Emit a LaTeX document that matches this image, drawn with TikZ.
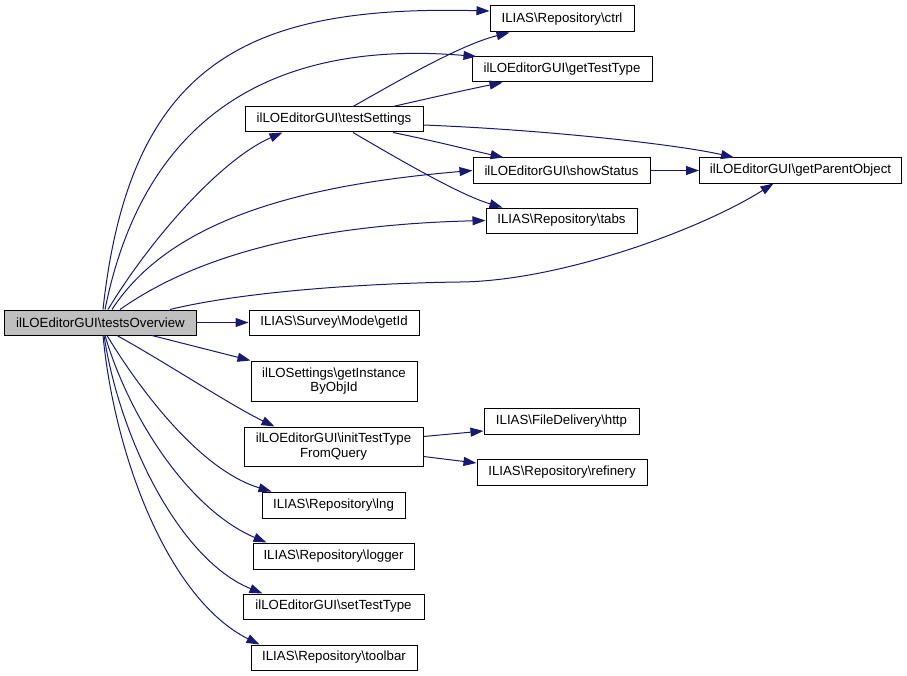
\documentclass[tikz,border=0pt]{standalone}
\usepackage{fontspec}
\setmainfont{Liberation Sans}
\usetikzlibrary{arrows.meta}
\definecolor{navy}{HTML}{191970}
\begin{document}
\begin{tikzpicture}[x=1bp,y=-1bp,
  fn/.style={rectangle, draw=black, fill=white, line width=1bp, inner sep=0pt, minimum height=25bp, align=center, font=\fontsize{13.3}{14.7}\selectfont},
  call/.style={draw=navy, line width=1bp, -{Triangle[length=13bp,width=9bp]}}]
\useasboundingbox (0,0) rectangle (907,676);

\node[fn, fill=black!25, minimum width=191bp](over) at (100.5,322.5) {ilLOEditorGUI\textbackslash{}testsOverview};

\node[fn, minimum width=144bp, minimum height=26bp](ctrl) at (562,19) {ILIAS\textbackslash{}Repository\textbackslash{}ctrl};
\node[fn, minimum width=180bp](gtt) at (562,69.5) {ilLOEditorGUI\textbackslash{}getTestType};
\node[fn, minimum width=178bp](tset) at (334,119.5) {ilLOEditorGUI\textbackslash{}testSettings};
\node[fn, minimum width=177bp](stat) at (561.5,170.5) {ilLOEditorGUI\textbackslash{}showStatus};
\node[fn, minimum width=202bp](par) at (800.5,170.5) {ilLOEditorGUI\textbackslash{}getParentObject};
\node[fn, minimum width=151bp](tabs) at (561.5,220.5) {ILIAS\textbackslash{}Repository\textbackslash{}tabs};

\node[fn, minimum width=170bp](getid) at (334,322.5) {ILIAS\textbackslash{}Survey\textbackslash{}Mode\textbackslash{}getId};
\node[fn, minimum width=166bp, minimum height=40bp](inst) at (334,381) {ilLOSettings\textbackslash{}getInstance\\ByObjId};
\node[fn, minimum width=179bp, minimum height=39bp](init) at (333.5,446.5) {ilLOEditorGUI\textbackslash{}initTestType\\FromQuery};
\node[fn, minimum width=155bp, minimum height=26bp](http) at (561.5,421) {ILIAS\textbackslash{}FileDelivery\textbackslash{}http};
\node[fn, minimum width=170bp, minimum height=26bp](ref) at (562,472) {ILIAS\textbackslash{}Repository\textbackslash{}refinery};
\node[fn, minimum width=143bp, minimum height=26bp](lng) at (333.5,505) {ILIAS\textbackslash{}Repository\textbackslash{}lng};
\node[fn, minimum width=161bp, minimum height=26bp](logger) at (333.5,556) {ILIAS\textbackslash{}Repository\textbackslash{}logger};
\node[fn, minimum width=181bp](stt) at (333.5,606.5) {ilLOEditorGUI\textbackslash{}setTestType};
\node[fn, minimum width=166bp](tb) at (334,657.5) {ILIAS\textbackslash{}Repository\textbackslash{}toolbar};

\draw[call] ([xshift=2.5bp]over.north) .. controls (130,60) and (250,5) .. ([yshift=8bp]ctrl.west);
\draw[call] ([xshift=4.5bp]over.north) .. controls (145,110) and (280,40) .. ([xshift=5bp]gtt.north west);
\draw[call] ([xshift=7.5bp]over.north) .. controls (150,240) and (220,160) .. ([xshift=38bp]tset.south west);
\draw[call] ([xshift=11.5bp]over.north) .. controls (170,220) and (300,185) .. (stat.west);
\draw[call] ([xshift=19.5bp]over.north) .. controls (190,260) and (300,225) .. (tabs.west);
\draw[call] ([xshift=69.5bp]over.north) .. controls (250,290) and (380,283) .. (460,282)
  .. controls (560,281) and (700,230) .. ([xshift=-27bp]par.south);
\draw[call] (over.east) -- (getid.west);
\draw[call] ([xshift=51.5bp]over.south) -- (inst.north west);
\draw[call] ([xshift=16.5bp]over.south) .. controls (170,365) and (230,405) .. ([xshift=31bp]init.north west);
\draw[call] ([xshift=6.5bp]over.south) .. controls (140,390) and (200,470) .. ([xshift=10bp]lng.north west);
\draw[call] ([xshift=4.5bp]over.south) .. controls (130,420) and (190,510) .. ([xshift=14bp]logger.north west);
\draw[call] ([xshift=3.5bp]over.south) .. controls (120,440) and (180,560) .. ([xshift=20bp]stt.north west);
\draw[call] ([xshift=2.5bp]over.south) .. controls (115,460) and (170,600) .. ([xshift=9bp]tb.north west);

\draw[call] ([xshift=19bp]tset.north) .. controls (400,80) and (460,45) .. ([xshift=20bp]ctrl.south west);
\draw[call] ([xshift=59bp]tset.north) .. controls (430,98) and (470,89) .. ([xshift=31bp]gtt.south west);
\draw[call] ([yshift=-5.5bp]tset.east) .. controls (550,130) and (680,145) .. ([xshift=35bp]par.north west);
\draw[call] ([xshift=59bp]tset.south) .. controls (430,140) and (470,150) .. ([xshift=31bp]stat.north west);
\draw[call] ([xshift=19bp]tset.south) .. controls (400,160) and (460,195) .. ([xshift=17bp]tabs.north west);
\draw[call] (stat.east) -- (par.west);

\draw[call] ([yshift=10bp]init.east) -- ([yshift=-10bp]http.west);
\draw[call] ([yshift=-10bp]init.east) -- ([yshift=9bp]ref.west);
\end{tikzpicture}
\end{document}
